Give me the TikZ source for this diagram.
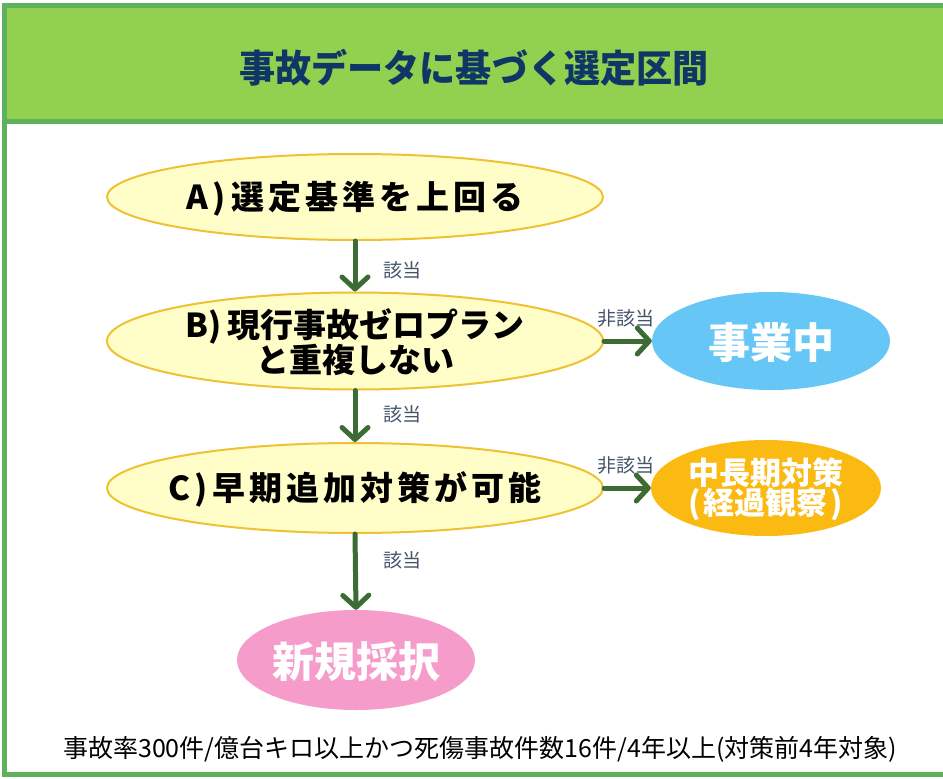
\documentclass[tikz,border=0pt]{standalone}
\usepackage{fontspec}
\usepackage{graphicx}
\newfontfamily\jp{Noto Sans CJK JP}
\newfontfamily\jpls[LetterSpace=12]{Noto Sans CJK JP}
\usetikzlibrary{shapes.geometric,arrows.meta}
\definecolor{frameg}{HTML}{5DB25B}
\definecolor{barg}{HTML}{92D050}
\definecolor{navy}{HTML}{0E3766}
\definecolor{yfill}{HTML}{FFFDC8}
\definecolor{ydraw}{HTML}{EEC232}
\definecolor{arrowg}{HTML}{3D6B34}
\definecolor{lbl}{HTML}{44546A}
\definecolor{bluef}{HTML}{66C7F6}
\definecolor{orangef}{HTML}{FBBA12}
\definecolor{pinkf}{HTML}{F69CCB}
\newcommand{\ctrtext}[1]{\smash{\makebox[0pt]{\raisebox{-0.4em}{$\vcenter{\hbox{\begin{tabular}{@{}c@{}}#1\end{tabular}}}$}}}}
\begin{document}
\begin{tikzpicture}[x=1pt,y=-1pt,
  cond/.style={ellipse, draw=ydraw, line width=2pt, fill=yfill, inner sep=0pt,
    minimum width=496pt, text=black},
  result/.style={ellipse, draw=none, inner sep=0pt, text=white},
  flow/.style={draw=arrowg, line width=5pt, line cap=round,
    -{Straight Barb[length=12pt,width=26pt,line width=5pt,round]}},
  lab/.style={text=lbl, font=\jp\fontsize{19}{21}\selectfont, inner sep=0pt}
]
\useasboundingbox (0,0) rectangle (943,779);
\fill[white] (0,0) rectangle (943,779);
\fill[barg] (5,8) rectangle (943,119);
\draw[frameg, line width=5pt] (950,5.5) -- (4.5,5.5) -- (4.5,774) -- (950,774);
\draw[frameg, line width=5pt] (4.5,121.5) -- (950,121.5);

\node[text=navy, inner sep=0pt] (title) at (474,68)
  {\scalebox{0.95}[1]{\jp\bfseries\fontsize{38}{42}\selectfont 事故データに基づく選定区間}};

\node[cond, minimum height=86pt] (A) at (355,197)
  {\ctrtext{\jpls\bfseries\fontsize{33}{37}\selectfont A)\,選定基準を上回る}};
\node[cond, minimum height=97pt] (B) at (355,341)
  {\ctrtext{\jp\bfseries\fontsize{33}{38}\selectfont B)\,現行事故ゼロプラン\\ \jp\bfseries\fontsize{33}{38}\selectfont と重複しない}};
\node[cond, minimum height=90pt] (C) at (355,488)
  {\ctrtext{\jpls\bfseries\fontsize{33}{37}\selectfont C)\,早期追加対策が可能}};

\node[result, fill=bluef, minimum width=238pt, minimum height=98pt] (D) at (771,341)
  {\ctrtext{\jp\bfseries\fontsize{42}{46}\selectfont 事業中}};
\node[result, fill=orangef, minimum width=230pt, minimum height=96pt] (E) at (766,488)
  {\ctrtext{\jp\bfseries\fontsize{31}{40}\selectfont 中長期対策\\ \jp\bfseries\fontsize{31}{40}\selectfont (\hspace{3pt}経過観察\hspace{3pt})}};
\node[result, fill=pinkf, minimum width=238pt, minimum height=100pt] (F) at (356,660)
  {\ctrtext{\jp\bfseries\fontsize{42}{46}\selectfont 新規採択}};

\draw[flow] (A.south) -- (B.north);
\draw[flow] (B.south) -- (C.north);
\draw[flow] (C.south) -- (F.north);
\draw[flow] (B.east) -- (D.west);
\draw[flow] (C.east) -- (E.west);

\node[lab] (l1) at (402,270) {該当};
\node[lab] (l2) at (402,414) {該当};
\node[lab] (l3) at (402,560) {該当};
\node[lab] (l4) at (626,318) {非該当};
\node[lab] (l5) at (626,465) {非該当};

\node[inner sep=0pt] (note) at (480,749)
  {\jp\fontsize{25}{27}\selectfont 事故率300件/億台キロ以上かつ死傷事故件数16件/4年以上(対策前4年対象)};
\end{tikzpicture}
\end{document}
